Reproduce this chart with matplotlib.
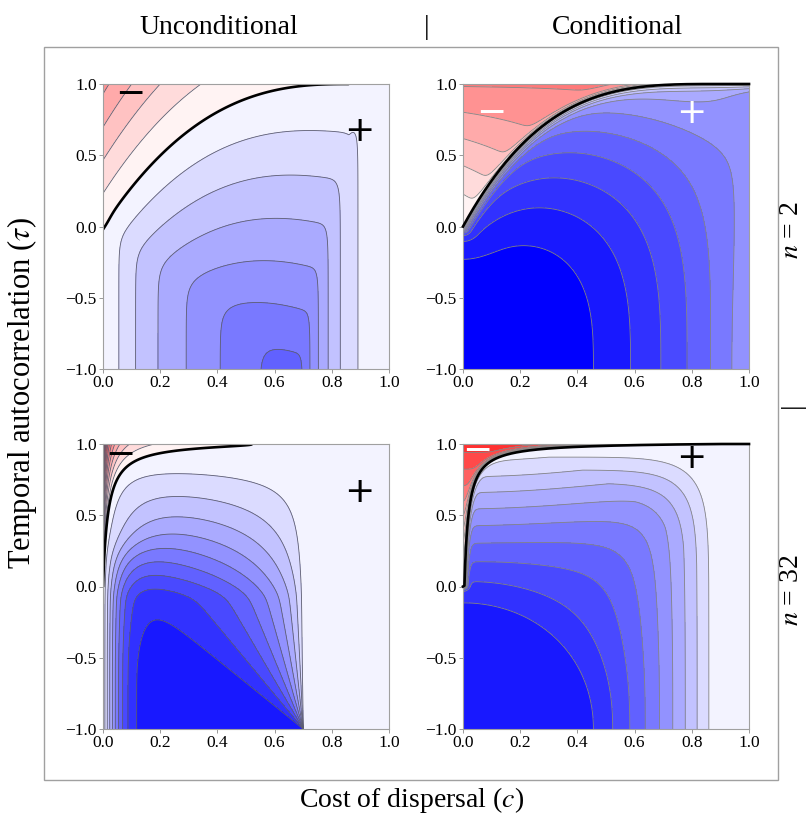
import numpy as np
import matplotlib
matplotlib.use("Agg")
import matplotlib.pyplot as plt
from matplotlib.patches import Rectangle

plt.rcParams["font.family"] = ["Liberation Serif", "DejaVu Serif"]
plt.rcParams["mathtext.fontset"] = "stix"
plt.rcParams["axes.unicode_minus"] = True

W, H, DPI = 806, 815, 100

# ---- labels and ticks ----
col_titles = ["Unconditional", "Conditional"]
row_titles = ["$n$ = 2", "$n$ = 32"]
x_label = "Cost of dispersal ($c$)"
y_label = "Temporal autocorrelation ($\\tau$)"
c_ticks = [0.0, 0.2, 0.4, 0.6, 0.8, 1.0]
tau_ticks = [-1.0, -0.5, 0.0, 0.5, 1.0]
levels = np.arange(-20, 21)

# ---- surface parameters ----
# unconditional, n = 2
u2_curve = [0.86, 2.6]
u2_slope = [4.3, -1.6]
u2_low_c = [0.3, 9.92, 1.65]
u2_high_c = [0.4, 5.5, 0.3, 2.18]
# conditional, n = 2
k2_curve = [0.90, 3.3]
k2_base = [11.54, 7.4, 1.03, 10.95]
k2_edge = [5.2, 2.5, 0.19]
k2_red = [5.1, 1.5, 1.1]
k2_cliff = [0.02, 0.012, 0.2, 0.08]
# unconditional, n = 32
u32_curve = [0.52, 0.0175]
u32_top = [9.1, 9.8, 9.78]
u32_left = [0.08, 0.085, 0.3, 0.08]
u32_right = [0.70, 1.71, 0.6, 0.5, 2.0]
u32_cross = [15.0, 14.0]
# conditional, n = 32
k32_curve = [0.90, 0.0146, 0.005]
k32_base = [11.85, 15.15, 0.3, 9.92]
k32_shape = [0.4, 0.6, 7.0, 0.96, 0.15]
k32_red = [8.5]
k32_cliff = [0.01, 0.01]

# contour line colour per panel
line_colours = ["#5e5e70", "#858585", "#5e5e70", "#858585"]

# sign markers: glyph, c, tau, colour
marks = [
    [("\u2212", 0.094, 0.93, "black"), ("+", 0.896, 0.67, "black")],
    [("\u2212", 0.10, 0.80, "white"), ("+", 0.80, 0.80, "white")],
    [("\u2212", 0.059, 0.923, "black"), ("+", 0.896, 0.665, "black")],
    [("\u2212", 0.051, 0.95, "white"), ("+", 0.80, 0.90, "black")],
]


def softplus(x, k=1.0):
    return np.logaddexp(0.0, k * x) / k


def softmin(terms, p):
    a = np.stack([np.broadcast_to(t, terms[0].shape) for t in terms])
    m = a.min(axis=0)
    return m - np.log(np.exp(-p * (a - m)).sum(axis=0)) / p


# ---------- zero curves ----------
def tau0_u2(c):
    cm, k = u2_curve
    u = 1 - c / cm
    return np.where(u >= 0, 1 - np.abs(u) ** k, 1 + 3 * np.abs(u))


def tau0_k2(c):
    cm, k = k2_curve
    u = np.clip(1 - c / cm, 0, None)
    return 1 - u ** k


def tau0_u32(c):
    cm, bb = u32_curve
    u = 1 - c / cm
    return 1 - bb / (c + bb) * np.sign(u) * np.sqrt(np.abs(u))


def tau0_k32(c):
    cm, bb, c00 = k32_curve
    g = np.minimum(1.0, bb / np.clip(c - c00 + bb, 1e-9, None)) * np.clip(1 - c / cm, 0, None)
    return 1 - g


def curve_points(tau0, n=900):
    cc = np.linspace(0, 1, 20001) ** 2
    vv = (1 + np.clip(tau0(cc), -1, 1)) / 2
    seg = np.hypot(np.diff(cc), np.diff(vv))
    s = np.concatenate([[0], np.cumsum(seg)])
    si = np.linspace(0, s[-1], n)
    return np.interp(si, s, cc), np.interp(si, s, vv)


def signed_distance(C, T, tau0):
    pc, pv = curve_points(tau0)
    Cf = C.ravel()
    Vf = ((1 + T) / 2).ravel()
    out = np.empty(Cf.size)
    step = 3000
    for i in range(0, Cf.size, step):
        dc = Cf[i:i + step, None] - pc[None, :]
        dv = Vf[i:i + step, None] - pv[None, :]
        out[i:i + step] = np.sqrt((dc * dc + dv * dv).min(axis=1))
    sign = np.where(T.ravel() <= tau0(Cf), 1.0, -1.0)
    return (out * sign).reshape(C.shape)


# ---------- surfaces ----------
def field_u2(C, T):
    D = (u2_slope[0] + u2_slope[1] * C) * (tau0_u2(C) - T)
    L = u2_low_c[0] + softplus(u2_low_c[1] * np.sqrt(C) - u2_low_c[2], 4.0)
    fl, g, wdt, ex = u2_high_c
    R = fl + g * ((1 - C) / wdt) ** ex
    return softmin([L, D, R], 4.0)


def field_k2(C, T):
    d = signed_distance(C, T, tau0_k2)
    V = (1 + T) / 2
    a0, a1, b, cap = k2_base
    N2 = (C ** 3 + (V / b) ** 3) ** (2 / 3)
    g, ex, lam = k2_edge
    base = a0 - a1 * N2 + g * V ** ex * np.exp(-(1 - C) / lam)
    base = softmin([base, np.full_like(base, cap)], 6.0)
    wb, wr, sd, sw = k2_cliff
    blue = base * np.tanh(np.clip(d, 0, None) / wb) * (1 - sd * np.exp(-np.abs(d) / sw))
    rg, cw, rex = k2_red
    gg = np.clip(T + cw * C * (1 - T), 0, None)
    red = -rg * gg ** rex * np.tanh(np.clip(-d, 0, None) / wr)
    return np.where(d >= 0, blue, red)


def field_u32(C, T):
    t0 = tau0_u32(C)
    kb, kr = u32_cross
    D = np.where(T <= t0, kb, kr) * (t0 - T)
    p0, p1, cap = u32_top
    P = 0.2 + softplus(p0 - 0.2 - p1 * T, 3.0)
    P = softmin([P, np.full_like(P, cap)], 4.0)
    a_lo, a_hi, t_mid, t_w = u32_left
    a = a_lo + a_hi / (1 + np.exp(-(T - t_mid) / t_w))
    SL = np.tanh(C / a)
    c0, g1, q1, g2, q2 = u32_right
    alpha = np.clip((c0 - C) / (1 + T + 1e-6), 0, None)
    SR = np.tanh(g1 * alpha ** q1 + g2 * alpha ** q2)
    blue = 0.2 + P * SL * SR
    return softmin([blue, D], 6.0)


def field_k32(C, T):
    d = signed_distance(C, T, tau0_k32)
    V = (1 + T) / 2
    r0, rs, pg, b0, bg = k32_shape
    t = np.clip((np.hypot(C, V) - r0) / rs, 0, 1)
    p = 2 + pg * t ** 2
    b = b0 + bg * t
    N = (C ** p + (V / b) ** p) ** (1 / p)
    a0, a1, fl, cap = k32_base
    base = fl + softplus(a0 - a1 * N ** 2, 3.0)
    base = softmin([base, np.full_like(base, cap)], 6.0)
    wb, wr = k32_cliff
    blue = base * np.tanh(np.clip(d, 0, None) / wb)
    red = -k32_red[0] * np.clip(T, 0, None) * np.tanh(np.clip(-d, 0, None) / wr)
    return np.where(d >= 0, blue, red)


def band_colour(k):
    if k >= 0:
        t = min((k + 0.5) / 10.5, 1.0)
        return (1 - t, 1 - t, 1.0)
    t = (-k - 0.5) / 10.5
    if t <= 1:
        return (1.0, 1 - t, 1 - t)
    s = min((t - 1) / 0.5, 1.0)
    return (1 - 0.4 * s, 0.15 * s, 0.15 * s)


# ---------- grid ----------
cg = np.concatenate([np.linspace(0, 0.06, 90, endpoint=False), np.linspace(0.06, 1, 300)])
tg = np.concatenate([np.linspace(-1, 0.8, 260, endpoint=False), np.linspace(0.8, 1, 130)])
C, T = np.meshgrid(cg, tg)

panels = [
    (field_u2, tau0_u2, False),
    (field_k2, tau0_k2, True),
    (field_u32, tau0_u32, False),
    (field_k32, tau0_k32, True),
]

fig = plt.figure(figsize=(W / DPI, H / DPI), dpi=DPI)

# outer frame
fig.patches.append(Rectangle((44 / W, 1 - 780 / H), (778 - 44) / W, (780 - 47) / H,
                             transform=fig.transFigure, fill=False, ec="#a0a0a0", lw=1.0))

ax_px = [(103, 84), (463, 84), (103, 444), (463, 444)]
size_px = (286, 285)

fmt = lambda v: f"{v:.1f}".replace("-", "\u2212")

for i, (field, tau0, drawn_curve) in enumerate(panels):
    x0, y0 = ax_px[i]
    ax = fig.add_axes([x0 / W, 1 - (y0 + size_px[1]) / H, size_px[0] / W, size_px[1] / H])
    F = np.clip(field(C, T), -19.99, 19.99)
    ax.contourf(C, T, F, levels=levels, colors=[band_colour(k) for k in levels[:-1]])
    lines = [l for l in levels if l != 0]
    ax.contour(C, T, F, levels=lines, colors=line_colours[i], linewidths=0.6, linestyles="solid")
    if drawn_curve:
        cc = np.linspace(0, 1, 4001) ** 2
        ax.plot(cc, np.clip(tau0(cc), -1, 1), color="black", lw=1.9, clip_on=False, zorder=5)
    else:
        ax.contour(C, T, F, levels=[0], colors="black", linewidths=1.9, linestyles="solid")
    for glyph, mc, mt, col in marks[i]:
        ax.text(mc, mt, glyph, ha="center", va="center", fontsize=26, color=col,
                family=["DejaVu Sans"], zorder=6)
    ax.set_xlim(0, 1)
    ax.set_ylim(-1, 1)
    ax.set_xticks(c_ticks)
    ax.set_xticklabels([fmt(v) for v in c_ticks])
    ax.set_yticks(tau_ticks)
    ax.set_yticklabels([fmt(v) for v in tau_ticks])
    ax.tick_params(direction="out", length=3, width=0.7, color="#999999",
                   labelsize=12.5, pad=1.5)
    for sp in ax.spines.values():
        sp.set_color("#a0a0a0")
        sp.set_linewidth(0.8)

fig.text(219 / W, 1 - 28 / H, col_titles[0], ha="center", va="center", fontsize=20)
fig.text(427 / W, 1 - 28 / H, "|", ha="center", va="center", fontsize=20)
fig.text(617 / W, 1 - 28 / H, col_titles[1], ha="center", va="center", fontsize=20)
fig.text(412 / W, 1 - 800 / H, x_label, ha="center", va="center", fontsize=20)
fig.text(22 / W, 1 - 393 / H, y_label, ha="center", va="center", fontsize=22, rotation=90)
fig.text(792 / W, 1 - 230 / H, row_titles[0], ha="center", va="center", fontsize=20, rotation=90)
fig.text(792 / W, 1 - 405 / H, "|", ha="center", va="center", fontsize=20, rotation=90)
fig.text(792 / W, 1 - 590 / H, row_titles[1], ha="center", va="center", fontsize=20, rotation=90)

fig.savefig("out.png", dpi=DPI)
